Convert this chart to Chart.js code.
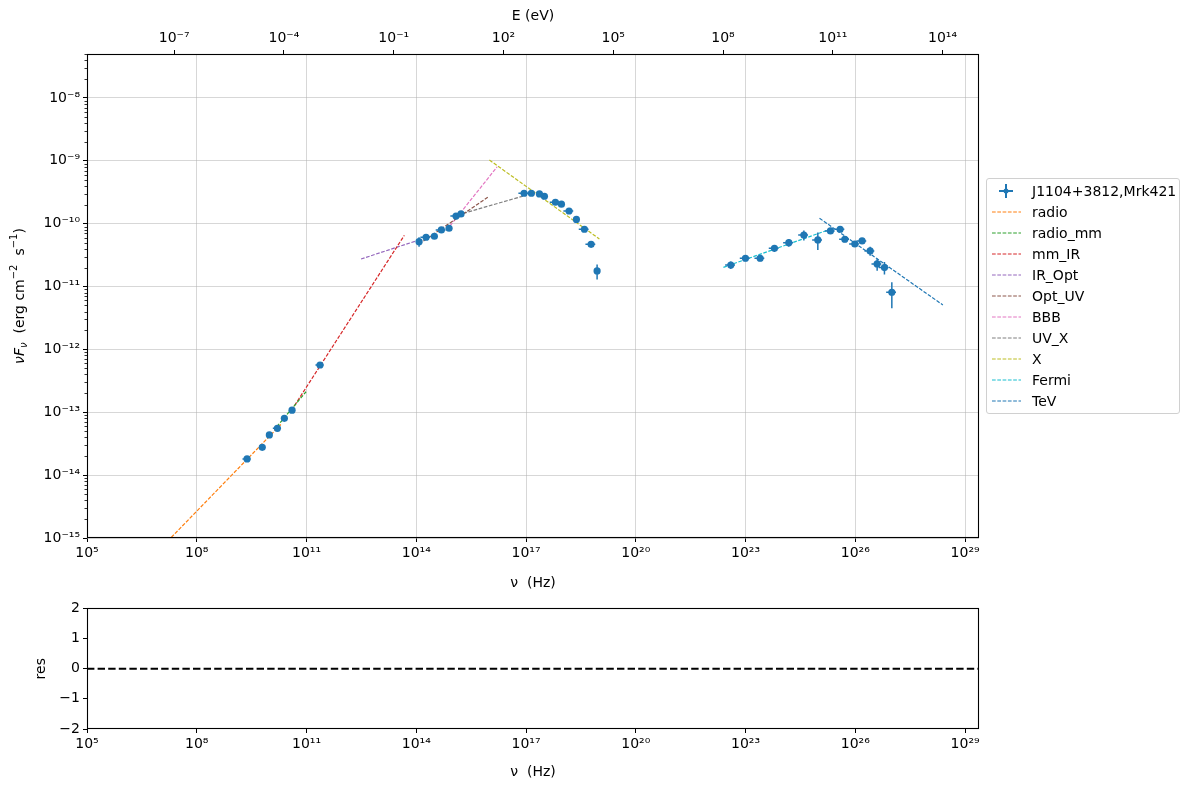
<!DOCTYPE html>
<html lang="en">
<head>
  <meta charset="UTF-8">
  <title>SED J1104+3812, Mrk421</title>
  <script src="https://cdn.jsdelivr.net/npm/chart.js@4"></script>
  <style>
    body { margin: 0; background: #fff; font-family: "DejaVu Sans", sans-serif; }
    #wrap { position: relative; width: 1189px; height: 789px; }
    #sedCanvas { position: absolute; left: 0; top: 0; }
    #resCanvas { position: absolute; left: 0; top: 597px; }
    #legend {
      position: absolute; left: 986px; top: 178px; width: 192px; height: 233px;
      border: 1px solid #d0d0d0; border-radius: 3px; background: rgba(255,255,255,0.8);
      font-size: 14px; padding-top: 1px; box-sizing: content-box; color: #000;
    }
    .row { height: 21.1px; display: flex; align-items: center; white-space: nowrap; }
    .row svg { margin-left: 5px; flex: none; }
    .row span { margin-left: 11px; }
  </style>
</head>
<body>
  <div id="wrap">
    <canvas id="sedCanvas" width="1189" height="600"></canvas>
    <canvas id="resCanvas" width="1189" height="192"></canvas>
    <div id="legend"></div>
  </div>

  <script>
    const H_EV = 4.135667e-15; // eV s
    const NU_MIN = 1e5;
    const NU_MAX = 2.4e29;
    const F_MIN = 1e-15;
    const F_MAX = 5.0e-8;

    // 관측 데이터 (Hz, erg cm^-2 s^-1)
    const nuData = [
      2.37e9, 6.17e9, 9.64e9, 1.60e10, 2.48e10, 4.02e10, 2.34e11,
      1.19e14, 1.85e14, 3.12e14, 4.85e14, 7.87e14, 1.22e15, 1.67e15,
      8.83e16, 1.40e17, 2.32e17, 3.18e17, 6.35e17, 9.27e17, 1.50e18, 2.38e18, 3.94e18, 6.00e18, 8.75e18,
      3.95e22, 9.93e22, 2.50e23, 6.15e23, 1.52e24, 3.92e24, 9.44e24, 2.09e25, 3.85e25,
      5.16e25, 9.68e25, 1.53e26, 2.54e26, 3.95e26, 6.25e26, 9.95e26
    ];
    const fluxData = [
      1.81e-14, 2.77e-14, 4.36e-14, 5.56e-14, 8.02e-14, 1.08e-13, 5.65e-13,
      5.18e-11, 6.08e-11, 6.31e-11, 7.94e-11, 8.45e-11, 1.32e-10, 1.43e-10,
      3.05e-10, 3.05e-10, 2.97e-10, 2.73e-10, 2.19e-10, 2.04e-10, 1.59e-10, 1.17e-10, 8.15e-11, 4.70e-11, 1.77e-11,
      2.20e-11, 2.82e-11, 2.82e-11, 4.06e-11, 4.99e-11, 6.61e-11, 5.51e-11, 7.66e-11, 8.15e-11,
      5.65e-11, 4.75e-11, 5.31e-11, 3.68e-11, 2.29e-11, 2.00e-11, 8.11e-12
    ];
    const fluxErr = [
      1e-15, 1.5e-15, 2e-15, 3e-15, 4e-15, 5e-15, 3e-14,
      9e-12, 3e-12, 3e-12, 4e-12, 4e-12, 6e-12, 6e-12,
      1.5e-11, 1.5e-11, 1.5e-11, 1.3e-11, 1e-11, 1e-11, 8e-12, 6e-12, 4e-12, 2.5e-12, 4.8e-12,
      3e-12, 3e-12, 3e-12, 5e-12, 7e-12, 1.2e-11, 1.7e-11, 6e-12, 6e-12,
      6e-12, 5e-12, 5e-12, 6e-12, 5e-12, 4.5e-12, 3.6e-12
    ];
    // 주파수 오차 (nu 대비 비율)
    const nuErrFrac = [
      0.25, 0, 0, 0.25, 0, 0, 0.25,
      0, 0.3, 0, 0.3, 0, 0.3, 0,
      0.3, 0, 0, 0, 0.3, 0, 0.3, 0, 0.3, 0.3, 0,
      0.3, 0.3, 0.3, 0.3, 0.3, 0.3, 0.3, 0.3, 0.3,
      0.3, 0.3, 0.3, 0.3, 0.3, 0.3, 0.3
    ];

    // 모델 성분 (끝점)
    const radioNu = [1.0e7, 2.0e10];
    const radioFlux = [6.72e-16, 6.41e-14];
    const radioMmNu = [1.54e10, 9.71e10];
    const radioMmFlux = [5.90e-14, 2.12e-13];
    const mmIrNu = [3.94e10, 4.72e13];
    const mmIrFlux = [1.09e-13, 6.53e-11];
    const irOptNu = [3.09e12, 1.19e14];
    const irOptFlux = [2.74e-11, 5.51e-11];
    const optUvNu = [1.19e14, 9.00e15];
    const optUvFlux = [4.75e-11, 2.63e-10];
    const bbbNu = [6.81e14, 1.61e16];
    const bbbFlux = [7.94e-11, 7.98e-10];
    const uvXNu = [1.94e15, 1.05e17];
    const uvXFlux = [1.46e-10, 2.86e-10];
    const xNu = [9.95e15, 1.01e19];
    const xFlux = [1.03e-9, 5.71e-11];
    const fermiNu = [2.48e22, 2.05e25];
    const fermiFlux = [2.02e-11, 8.15e-11];
    const tevNu = [1.05e25, 2.47e28];
    const tevFlux = [1.22e-10, 5.09e-12];

    const compNames = ["radio", "radio_mm", "mm_IR", "IR_Opt", "Opt_UV", "BBB", "UV_X", "X", "Fermi", "TeV"];
    const compNu = [radioNu, radioMmNu, mmIrNu, irOptNu, optUvNu, bbbNu, uvXNu, xNu, fermiNu, tevNu];
    const compFlux = [radioFlux, radioMmFlux, mmIrFlux, irOptFlux, optUvFlux, bbbFlux, uvXFlux, xFlux, fermiFlux, tevFlux];
    const compColors = ["#ff7f0e", "#2ca02c", "#d62728", "#9467bd", "#8c564b", "#e377c2", "#7f7f7f", "#bcbd22", "#17becf", "#1f77b4"];

    // 눈금
    const nuTickExp = [5, 8, 11, 14, 17, 20, 23, 26, 29];
    const eTickExp = [-7, -4, -1, 2, 5, 8, 11, 14];
    const fluxTickExp = [-15, -14, -13, -12, -11, -10, -9, -8];
    const resNu = [NU_MIN, NU_MAX];
    const resVal = [0, 0];

    const GRID = "rgba(176,176,176,0.5)";
    const DATA_COLOR = "#1f77b4";
    Chart.defaults.font.family = "'DejaVu Sans', sans-serif";
    Chart.defaults.font.size = 14;
    Chart.defaults.color = "#000";

    const SUP = { "-": "\u207B", "0": "\u2070", "1": "\u00B9", "2": "\u00B2", "3": "\u00B3",
                  "4": "\u2074", "5": "\u2075", "6": "\u2076", "7": "\u2077", "8": "\u2078", "9": "\u2079" };
    function pow10Label(v) {
      const e = Math.round(Math.log10(v));
      return "10" + String(e).split("").map(c => SUP[c]).join("");
    }
    const expTicks = exps => scale => { scale.ticks = exps.map(e => ({ value: Math.pow(10, e) })); };

    // 오차 막대
    const errorBars = {
      id: "errorBars",
      beforeDatasetDraw(chart, args) {
        if (args.index !== 0) return;
        const { ctx, scales: { x, y } } = chart;
        ctx.save();
        ctx.strokeStyle = DATA_COLOR;
        ctx.lineWidth = 1.5;
        nuData.forEach((nu, i) => {
          const px = x.getPixelForValue(nu);
          const py = y.getPixelForValue(fluxData[i]);
          ctx.beginPath();
          ctx.moveTo(px, y.getPixelForValue(fluxData[i] + fluxErr[i]));
          ctx.lineTo(px, y.getPixelForValue(Math.max(fluxData[i] - fluxErr[i], 1e-30)));
          if (nuErrFrac[i] > 0) {
            ctx.moveTo(x.getPixelForValue(nu * (1 - nuErrFrac[i])), py);
            ctx.lineTo(x.getPixelForValue(nu * (1 + nuErrFrac[i])), py);
          }
          ctx.stroke();
        });
        ctx.restore();
      }
    };

    // 테두리 + 보조 눈금
    const frame = {
      id: "frame",
      afterDraw(chart, args, opts) {
        const { ctx, chartArea: a } = chart;
        ctx.save();
        ctx.strokeStyle = "#000";
        if (opts.minorY) {
          const ys = chart.scales.y;
          ctx.beginPath();
          for (let e = -16; e <= -7; e++) {
            for (let m = 2; m <= 9; m++) {
              const v = m * Math.pow(10, e);
              if (v < ys.min || v > ys.max) continue;
              const py = Math.round(ys.getPixelForValue(v)) + 0.5;
              ctx.moveTo(a.left - 2.5, py);
              ctx.lineTo(a.left, py);
            }
          }
          ctx.lineWidth = 0.8;
          ctx.stroke();
        }
        ctx.lineWidth = 1.1;
        ctx.strokeRect(Math.round(a.left) + 0.5, Math.round(a.top) + 0.5,
                       Math.round(a.right - a.left) - 1, Math.round(a.bottom - a.top) - 1);
        ctx.restore();
      }
    };

    // y축 제목 (아래첨자/위첨자)
    const yTitle = {
      id: "yTitle",
      afterDraw(chart) {
        const ctx = chart.ctx;
        const parts = [
          ["\u03BDF", 0, "italic 14px 'DejaVu Sans'"],
          ["\u03BD", 4, "italic 10px 'DejaVu Sans'"],
          ["  (erg cm", 0, "14px 'DejaVu Sans'"],
          ["\u22122", -6, "10px 'DejaVu Sans'"],
          ["  s", 0, "14px 'DejaVu Sans'"],
          ["\u22121", -6, "10px 'DejaVu Sans'"],
          [")", 0, "14px 'DejaVu Sans'"]
        ];
        ctx.save();
        ctx.translate(20, 296);
        ctx.rotate(-Math.PI / 2);
        ctx.fillStyle = "#000";
        ctx.textBaseline = "middle";
        let total = 0;
        parts.forEach(p => { ctx.font = p[2]; total += ctx.measureText(p[0]).width; });
        let cx = -total / 2;
        parts.forEach(p => {
          ctx.font = p[2];
          ctx.fillText(p[0], cx, p[1]);
          cx += ctx.measureText(p[0]).width;
        });
        ctx.restore();
      }
    };

    const datasets = [{
      label: "J1104+3812,Mrk421",
      data: nuData.map((nu, i) => ({ x: nu, y: fluxData[i] })),
      backgroundColor: DATA_COLOR,
      borderWidth: 0,
      pointRadius: 3.6,
      showLine: false
    }];
    compNames.forEach((name, k) => {
      datasets.push({
        label: name,
        data: compNu[k].map((nu, i) => ({ x: nu, y: compFlux[k][i] })),
        borderColor: compColors[k],
        borderWidth: 1.2,
        borderDash: [3.7, 1.6],
        pointRadius: 0,
        showLine: true,
        tension: 0
      });
    });

    const xTickOpts = {
      callback: pow10Label, autoSkip: false, maxRotation: 0, padding: 3
    };

    new Chart(document.getElementById("sedCanvas"), {
      type: "scatter",
      data: { datasets },
      plugins: [errorBars, frame, yTitle],
      options: {
        responsive: false,
        animation: false,
        layout: { padding: { left: 0, right: 210, top: 0, bottom: 0 } },
        plugins: { legend: { display: false }, tooltip: { enabled: false }, frame: { minorY: true } },
        scales: {
          x: {
            type: "logarithmic", position: "bottom", min: NU_MIN, max: NU_MAX,
            afterBuildTicks: expTicks(nuTickExp),
            afterFit: s => { s.height = 62; },
            ticks: xTickOpts,
            grid: { color: GRID, tickColor: "#000", tickLength: 4 },
            border: { display: false },
            title: { display: true, text: "\u03BD  (Hz)", padding: { top: 0, bottom: 8.6 } }
          },
          xTop: {
            type: "logarithmic", axis: "x", position: "top", min: NU_MIN * H_EV, max: NU_MAX * H_EV,
            afterBuildTicks: expTicks(eTickExp),
            afterFit: s => { s.height = 54; },
            ticks: xTickOpts,
            grid: { drawOnChartArea: false, tickColor: "#000", tickLength: 4 },
            border: { display: false },
            title: { display: true, text: "E (eV)", padding: { top: 7.6, bottom: 0 } }
          },
          y: {
            type: "logarithmic", position: "left", min: F_MIN, max: F_MAX,
            afterBuildTicks: expTicks(fluxTickExp),
            afterFit: s => { s.width = 87; },
            ticks: { callback: pow10Label, autoSkip: false, padding: 3 },
            grid: { color: GRID, tickColor: "#000", tickLength: 4 },
            border: { display: false }
          }
        }
      }
    });

    // 잔차 패널
    new Chart(document.getElementById("resCanvas"), {
      type: "scatter",
      data: {
        datasets: [{
          data: resNu.map((nu, i) => ({ x: nu, y: resVal[i] })),
          borderColor: "#000",
          borderWidth: 2,
          borderDash: [7.4, 3.2],
          pointRadius: 0,
          showLine: true
        }]
      },
      plugins: [frame],
      options: {
        responsive: false,
        animation: false,
        layout: { padding: { left: 0, right: 210, top: 8, bottom: 0 } },
        plugins: { legend: { display: false }, tooltip: { enabled: false }, frame: { minorY: false } },
        scales: {
          x: {
            type: "logarithmic", position: "bottom", min: NU_MIN, max: NU_MAX,
            afterBuildTicks: expTicks(nuTickExp),
            afterFit: s => { s.height = 60; },
            ticks: xTickOpts,
            grid: { drawOnChartArea: false, tickColor: "#000", tickLength: 4 },
            border: { display: false },
            title: { display: true, text: "\u03BD  (Hz)", padding: { top: 0, bottom: 8.6 } }
          },
          y: {
            type: "linear", position: "left", min: -2, max: 2,
            afterFit: s => { s.width = 87; },
            ticks: { stepSize: 1, padding: 3, callback: v => (v < 0 ? "\u2212" + (-v) : String(v)) },
            grid: { drawOnChartArea: false, tickColor: "#000", tickLength: 4 },
            border: { display: false },
            title: { display: true, text: "res", padding: { top: 33, bottom: 0 } }
          }
        }
      }
    });

    // 범례
    const legend = document.getElementById("legend");
    const dataRow = document.createElement("div");
    dataRow.className = "row";
    dataRow.innerHTML =
      `<svg width="29" height="16"><line x1="7" y1="8" x2="21" y2="8" stroke="${DATA_COLOR}" stroke-width="2"/>` +
      `<line x1="14" y1="1" x2="14" y2="15" stroke="${DATA_COLOR}" stroke-width="2"/>` +
      `<circle cx="14" cy="8" r="2.5" fill="${DATA_COLOR}"/></svg><span>J1104+3812,Mrk421</span>`;
    legend.appendChild(dataRow);
    compNames.forEach((name, k) => {
      const row = document.createElement("div");
      row.className = "row";
      row.innerHTML =
        `<svg width="29" height="16"><line x1="0" y1="8" x2="29" y2="8" stroke="${compColors[k]}" ` +
        `stroke-width="1" stroke-dasharray="3.7 1.6"/></svg><span>${name}</span>`;
      legend.appendChild(row);
    });
  </script>
</body>
</html>
